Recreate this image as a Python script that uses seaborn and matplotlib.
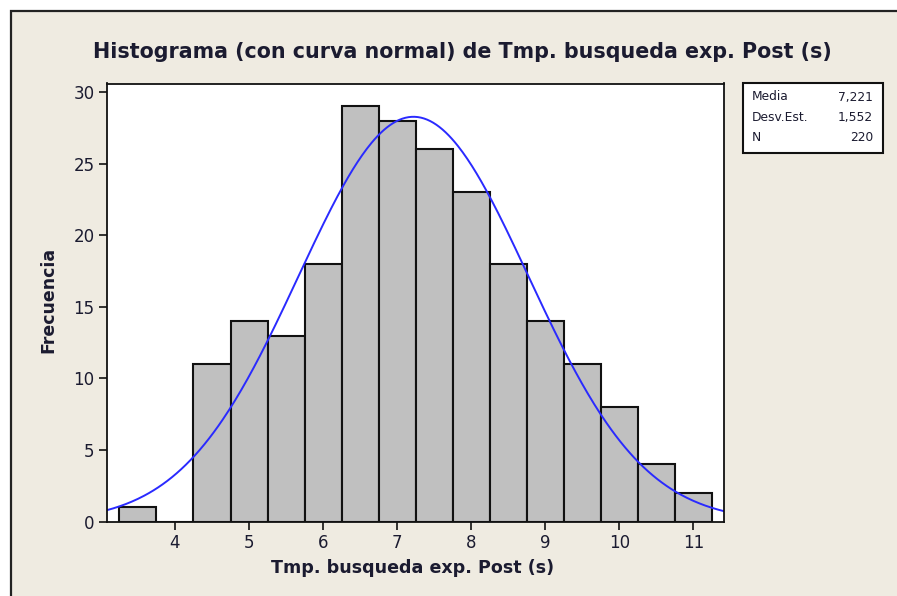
import numpy as np
import pandas as pd
import matplotlib
matplotlib.use("Agg")
import matplotlib.pyplot as plt
from matplotlib.patches import Rectangle
import seaborn as sns

# Histogram of search times (bin width 0.5 s)
bin_edges = [3.25, 3.75, 4.25, 4.75, 5.25, 5.75, 6.25, 6.75, 7.25,
             7.75, 8.25, 8.75, 9.25, 9.75, 10.25, 10.75, 11.25]
bin_counts = [1, 0, 11, 14, 13, 18, 29, 28, 26, 23, 18, 14, 11, 8, 4, 2]

# Summary statistics shown in the side box
media = 7.221
desv_est = 1.552
n_obs = 220

x_ticks = [4, 5, 6, 7, 8, 9, 10, 11]
y_ticks = [0, 5, 10, 15, 20, 25, 30]

titulo = "Histograma (con curva normal) de Tmp. busqueda exp. Post (s)"
etiqueta_x = "Tmp. busqueda exp. Post (s)"
etiqueta_y = "Frecuencia"

sns.set_theme(style="white")
plt.rcParams["font.family"] = ["DejaVu Sans"]

TXT = "#1b1b30"
BG = "#efebe1"

W, H = 897, 596
fig = plt.figure(figsize=(W / 100, H / 100), dpi=100, facecolor="white")

# Beige panel; only its left and top edges fall inside the figure
fig.patches.append(Rectangle((11 / W, -0.2), 1.5, 1.2 - 11 / H,
                             transform=fig.transFigure, facecolor=BG,
                             edgecolor="#222222", linewidth=1.6, zorder=-10))

ax_l, ax_r, ax_t, ax_b = 107, 724, 83.5, 521.7
ax = fig.add_axes([ax_l / W, 1 - ax_b / H, (ax_r - ax_l) / W, (ax_b - ax_t) / H])
ax.set_facecolor("white")

centers = [(a + b) / 2 for a, b in zip(bin_edges[:-1], bin_edges[1:])]
df = pd.DataFrame({"tiempo": centers, "n": bin_counts})
sns.histplot(data=df, x="tiempo", weights="n", bins=bin_edges, ax=ax,
             color="#c0c0c0", alpha=1, edgecolor="#111111", linewidth=1.5)

xlim = (3.082, 11.415)
ax.set_xlim(*xlim)
ax.set_ylim(0, 30.6)

# Fitted normal curve scaled to counts
bw = bin_edges[1] - bin_edges[0]
xs = np.linspace(xlim[0], xlim[1], 400)
ys = n_obs * bw * np.exp(-0.5 * ((xs - media) / desv_est) ** 2) / (desv_est * np.sqrt(2 * np.pi))
sns.lineplot(x=xs, y=ys, ax=ax, color="#2a2aff", lw=1.4)

ax.set_xticks(x_ticks)
ax.set_yticks(y_ticks)
ax.tick_params(axis="both", direction="out", length=6, width=1.2, color="#111111",
               labelsize=12, labelcolor=TXT, pad=3, bottom=True, left=True)
for s in ax.spines.values():
    s.set_color("#111111")
    s.set_linewidth(1.3)
ax.set_xlabel("")
ax.set_ylabel("")

fig.text(462.5 / W, 1 - 52 / H, titulo, ha="center", va="center",
         fontsize=14.9, fontweight="bold", color=TXT)
fig.text(413 / W, 1 - 568 / H, etiqueta_x, ha="center", va="center",
         fontsize=12.6, fontweight="bold", color=TXT)
fig.text(48 / W, 1 - 300 / H, etiqueta_y, ha="center", va="center",
         rotation=90, fontsize=12.5, fontweight="bold", color=TXT)

# Statistics box
bx0, bx1, by0, by1 = 743, 883, 83, 153
fig.patches.append(Rectangle((bx0 / W, 1 - by1 / H), (bx1 - bx0) / W, (by1 - by0) / H,
                             transform=fig.transFigure, facecolor="white",
                             edgecolor="#111111", lw=1.5, zorder=5))
rows = [("Media", f"{media:.3f}".replace(".", ",")),
        ("Desv.Est.", f"{desv_est:.3f}".replace(".", ",")),
        ("N", f"{n_obs}")]
for i, (lab, val) in enumerate(rows):
    yy = 1 - (97 + i * 20.3) / H
    fig.text(752 / W, yy, lab, ha="left", va="center", fontsize=8.8, color=TXT, zorder=6)
    fig.text(873 / W, yy, val, ha="right", va="center", fontsize=8.8, color=TXT, zorder=6)

fig.savefig("out.png", dpi=100, facecolor="white")
